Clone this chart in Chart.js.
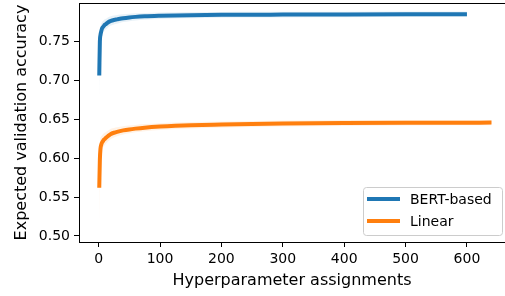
<!DOCTYPE html>
<html>
<head>
<meta charset="utf-8">
<script src="https://cdn.jsdelivr.net/npm/chart.js@4"></script>
<style>
  body { margin: 0; background: #fff; }
  #wrap { width: 505px; height: 296px; position: relative; }
</style>
</head>
<body>
<div id="wrap"><canvas id="evpChart"></canvas></div>
<script>
const bertSizes = [1, 2, 3, 4, 5, 6, 8, 10, 12, 15, 20, 25, 30, 40, 50, 60, 75, 100, 125, 150, 200, 250, 300, 400, 500, 600];
const bertMean = [0.706, 0.750, 0.758, 0.762, 0.765, 0.767, 0.769, 0.771, 0.772, 0.774, 0.776, 0.7772, 0.778, 0.7795, 0.7805, 0.7812, 0.7819, 0.7826, 0.7831, 0.7834, 0.7838, 0.784, 0.7841, 0.7843, 0.7845, 0.7846];
const bertLower = [0.676, 0.735, 0.747, 0.7525, 0.7565, 0.759, 0.7615, 0.764, 0.7652, 0.7675, 0.770, 0.7715, 0.7725, 0.7745, 0.7757, 0.7766, 0.7775, 0.7784, 0.7791, 0.7794, 0.780, 0.7803, 0.7805, 0.7808, 0.781, 0.7812];
const bertUpper = [0.736, 0.765, 0.769, 0.7715, 0.7735, 0.775, 0.7765, 0.778, 0.7788, 0.7805, 0.782, 0.7829, 0.7835, 0.7845, 0.7853, 0.7858, 0.7863, 0.7868, 0.7871, 0.7874, 0.7876, 0.7877, 0.7877, 0.7878, 0.788, 0.788];

const linearSizes = [1, 2, 3, 4, 5, 6, 8, 10, 12, 15, 20, 25, 30, 40, 50, 60, 75, 100, 125, 150, 200, 250, 300, 400, 500, 640];
const linearMean = [0.562, 0.598, 0.612, 0.6165, 0.619, 0.6205, 0.623, 0.6245, 0.626, 0.628, 0.631, 0.6325, 0.6337, 0.6355, 0.6368, 0.6378, 0.639, 0.6404, 0.6414, 0.6421, 0.643, 0.6438, 0.6444, 0.645, 0.6453, 0.6455];
const linearLower = [0.517, 0.578, 0.598, 0.6055, 0.6095, 0.6115, 0.6145, 0.6165, 0.6185, 0.621, 0.6245, 0.6265, 0.628, 0.6302, 0.6318, 0.633, 0.6344, 0.636, 0.6372, 0.638, 0.639, 0.6399, 0.6406, 0.6413, 0.6417, 0.642];
const linearUpper = [0.607, 0.618, 0.626, 0.6275, 0.6285, 0.6295, 0.6315, 0.6325, 0.6335, 0.635, 0.6375, 0.6385, 0.6394, 0.6408, 0.6418, 0.6426, 0.6436, 0.6448, 0.6456, 0.6462, 0.647, 0.6477, 0.6482, 0.6487, 0.6489, 0.649];

const xTicks = [0, 100, 200, 300, 400, 500, 600];
const yTicks = [0.50, 0.55, 0.60, 0.65, 0.70, 0.75];

const BLUE = '#1f77b4';
const ORANGE = '#ff7f0e';
const FONT = 'DejaVu Sans';

const pts = (xs, ys) => xs.map((x, i) => ({ x: x, y: ys[i] }));

const band = (xs, ys, color, fill) => ({
    data: pts(xs, ys),
    borderWidth: 0,
    pointRadius: 0,
    backgroundColor: color,
    fill: fill,
    cubicInterpolationMode: 'monotone',
    order: 2
});

const line = (label, xs, ys, color) => ({
    label: label,
    data: pts(xs, ys),
    borderColor: color,
    backgroundColor: color,
    borderWidth: 4,
    pointRadius: 0,
    fill: false,
    cubicInterpolationMode: 'monotone',
    order: 1
});

const noPad = s => { s.paddingTop = 0; s.paddingBottom = 0; s.paddingLeft = 0; s.paddingRight = 0; };

// top spine + matplotlib-style legend box
const framePlugin = {
    id: 'frame',
    afterDraw(chart) {
        const { ctx, chartArea } = chart;
        ctx.save();
        ctx.strokeStyle = '#000';
        ctx.lineWidth = 1;
        ctx.beginPath();
        ctx.moveTo(chartArea.left, chartArea.top + 0.5);
        ctx.lineTo(chartArea.right, chartArea.top + 0.5);
        ctx.stroke();

        const items = chart.data.datasets.filter(d => d.label);
        const bx = 363, by = 187, bw = 139, bh = 48;
        ctx.fillStyle = 'rgba(255,255,255,0.8)';
        ctx.strokeStyle = '#cccccc';
        ctx.lineWidth = 1;
        ctx.beginPath();
        ctx.roundRect(bx + 0.5, by + 0.5, bw, bh, 3);
        ctx.fill();
        ctx.stroke();
        ctx.font = '14px "' + FONT + '"';
        ctx.textBaseline = 'middle';
        items.forEach((d, i) => {
            const y = by + 12 + i * 22;
            ctx.strokeStyle = d.borderColor;
            ctx.lineWidth = 4;
            ctx.beginPath();
            ctx.moveTo(367, y);
            ctx.lineTo(400, y);
            ctx.stroke();
            ctx.fillStyle = '#000';
            ctx.fillText(d.label, 410, y + 1);
        });
        ctx.restore();
    }
};

new Chart(document.getElementById('evpChart'), {
    type: 'line',
    data: {
        datasets: [
            band(bertSizes, bertUpper, 'rgba(31,119,180,0.1)', '+1'),
            band(bertSizes, bertLower, 'rgba(31,119,180,0.1)', false),
            band(linearSizes, linearUpper, 'rgba(255,127,14,0.1)', '+1'),
            band(linearSizes, linearLower, 'rgba(255,127,14,0.1)', false),
            line('BERT-based', bertSizes, bertMean, BLUE),
            line('Linear', linearSizes, linearMean, ORANGE)
        ]
    },
    options: {
        responsive: true,
        maintainAspectRatio: false,
        animation: false,
        layout: { padding: { top: 3, right: 0, bottom: 0, left: 0 } },
        plugins: { legend: { display: false }, tooltip: { enabled: false } },
        scales: {
            x: {
                type: 'linear',
                min: -32,
                max: 662,
                afterBuildTicks: s => { s.ticks = xTicks.map(v => ({ value: v })); },
                afterFit: s => { s.height = 54; noPad(s); },
                grid: { drawOnChartArea: false, drawTicks: true, tickLength: 5, color: '#000' },
                border: { display: true, color: '#000', width: 1 },
                ticks: { color: '#000', padding: 4, maxRotation: 0, font: { family: FONT, size: 14 } },
                title: { display: true, text: 'Hyperparameter assignments', color: '#000', padding: { top: 0, bottom: 6 }, font: { family: FONT, size: 16 } }
            },
            y: {
                min: 0.4923,
                max: 0.799,
                afterBuildTicks: s => { s.ticks = yTicks.map(v => ({ value: v })); },
                afterFit: s => { s.width = 79; noPad(s); },
                grid: { drawOnChartArea: false, drawTicks: true, tickLength: 5, color: '#000' },
                border: { display: true, color: '#000', width: 1 },
                ticks: { color: '#000', padding: 4, callback: v => v.toFixed(2), font: { family: FONT, size: 14 } },
                title: { display: true, text: 'Expected validation accuracy', color: '#000', padding: { top: 12, bottom: 0 }, font: { family: FONT, size: 16 } }
            }
        }
    },
    plugins: [framePlugin]
});
</script>
</body>
</html>
